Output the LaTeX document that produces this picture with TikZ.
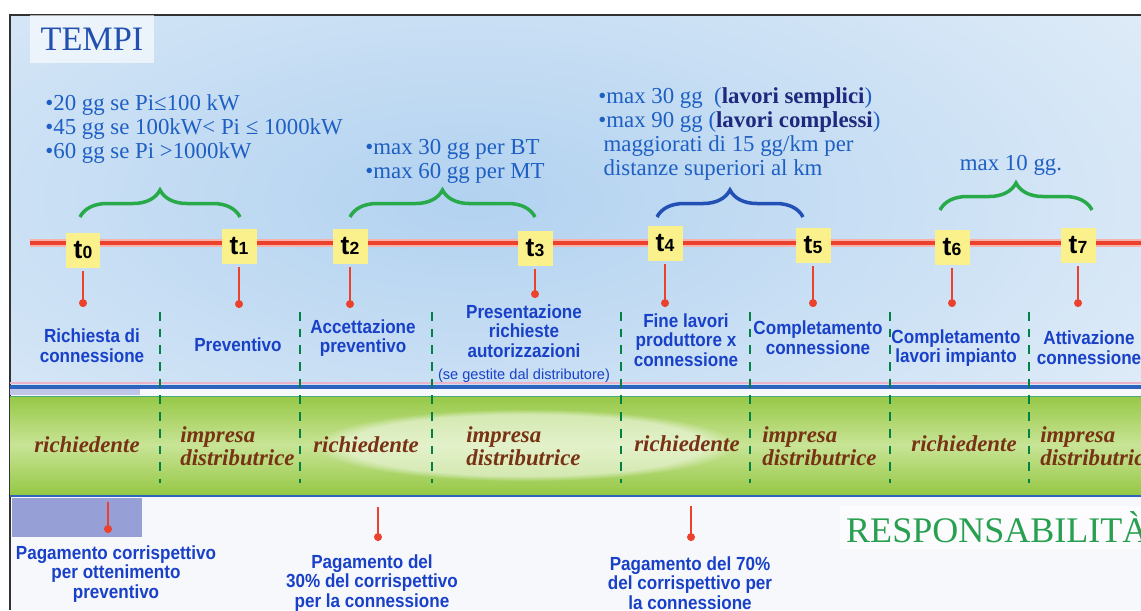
\documentclass[tikz,border=0pt]{standalone}
\usepackage{fontspec}
\setmainfont{Liberation Serif}
\setsansfont{Liberation Sans}
\newfontfamily\stagefont[FakeStretch=0.9]{Liberation Sans}
\usetikzlibrary{arrows.meta,decorations.pathreplacing,fadings}

\definecolor{frameGray}{RGB}{50,50,50}
\definecolor{bgLight}{RGB}{236,243,250}
\definecolor{skyBlue}{RGB}{178,210,240}
\definecolor{lowBg}{RGB}{247,248,252}
\definecolor{tempiBlue}{RGB}{35,80,175}
\definecolor{noteBlue}{RGB}{30,95,195}
\definecolor{boldNavy}{RGB}{30,40,125}
\definecolor{stageBlue}{RGB}{25,65,200}
\definecolor{braceGreen}{RGB}{40,170,75}
\definecolor{braceBlue}{RGB}{35,80,180}
\definecolor{lineRed}{RGB}{235,65,45}
\definecolor{tYellow}{RGB}{250,240,140}
\definecolor{sepGreen}{RGB}{0,130,70}
\definecolor{lineBlue}{RGB}{45,100,190}
\definecolor{linePink}{RGB}{235,180,200}
\definecolor{bandGreen}{RGB}{150,200,70}
\definecolor{bandMid}{RGB}{200,228,150}
\definecolor{roleBrown}{RGB}{120,50,20}
\definecolor{payLilac}{RGB}{150,160,215}
\definecolor{respGreen}{RGB}{40,160,80}

\begin{document}
\begin{tikzpicture}[x=0.02cm,y=-0.02cm]
        \tikzstyle{tbox}=[fill=tYellow,minimum width=7mm,minimum height=7mm,inner sep=0pt,font=\sffamily\fontsize{15}{15}\selectfont\bfseries]
        \tikzstyle{drop}=[draw=lineRed,line width=0.8pt,shorten <=2pt,-{Circle[length=4.5pt]}]
        \tikzstyle{stage}=[align=center,text=stageBlue,inner sep=0pt,font=\stagefont\fontsize{10.8}{11.2}\selectfont\bfseries]
        \tikzstyle{sep}=[draw=sepGreen,line width=1.3pt,dash pattern=on 5pt off 4.5pt]
        \tikzstyle{role}=[align=left,text=roleBrown,inner sep=0pt,font=\fontsize{13}{13}\selectfont\bfseries\itshape]
        \tikzstyle{note}=[align=left,text=noteBlue,inner sep=0pt,font=\fontsize{13}{13.8}\selectfont]
        \tikzstyle{curly}=[decorate,decoration={brace,amplitude=5.4mm},line width=2pt]

      \useasboundingbox (0,0) rectangle (1141,610);

      \begin{scope}
         \fill[white] (0,0) rectangle (1141,610);
         \fill[lowBg] (10,15) rectangle (1141,610);
         \begin{scope}
            \clip (10,15) rectangle (1141,386);
            \fill[bgLight] (10,15) rectangle (1141,386);
            \shade[inner color=skyBlue,outer color=bgLight] (470,200) ellipse (1040 and 460);
         \end{scope}
         \draw[frameGray,line width=1.1pt] (10,610) -- (10,15) -- (1141,15);

         \node[fill=white,fill opacity=0.6,text opacity=1,minimum width=2.5cm,minimum height=0.96cm,
               text=tempiBlue,font=\fontsize{19.5}{20}\selectfont] (tempi) at (92,39) {TEMPI};

         \node[note,anchor=west] (n1) at (45,129)
            {•20 gg se Pi≤100 kW\\•45 gg se 100kW< Pi ≤ 1000kW\\•60 gg se Pi >1000kW};
         \node[note,anchor=west] (n2) at (365,161)
            {•max 30 gg per BT\\•max 60 gg per MT};
         \node[note,anchor=west] (n3) at (598,134)
            {•max 30 gg~~(\textcolor{boldNavy}{\textbf{lavori semplici}})\\
             •max 90 gg (\textcolor{boldNavy}{\textbf{lavori complessi}})\\
             \hspace{3pt}maggiorati di 15 gg/km per\\
             \hspace{3pt}distanze superiori al km};
         \node[note] (n4) at (1011,165) {max 10 gg.};

         \draw[curly,draw=braceGreen] (80,217) -- (240,217);
         \draw[curly,draw=braceGreen] (350,217) -- (535,217);
         \draw[curly,draw=braceBlue]  (657,217) -- (803,217);
         \draw[curly,draw=braceGreen] (940,210) -- (1092,210);

         \draw[lineRed!40,line width=4.5pt] (30,243) -- (1141,243);
         \draw[lineRed,line width=2.6pt] (30,243) -- (1141,243);

         \node[tbox] (t0) at (83,250)   {t{\fontsize{10}{10}\selectfont 0}};
         \node[tbox] (t1) at (239,246)  {t{\fontsize{10}{10}\selectfont 1}};
         \node[tbox] (t2) at (350,246)  {t{\fontsize{10}{10}\selectfont 2}};
         \node[tbox] (t3) at (535,248)  {t{\fontsize{10}{10}\selectfont 3}};
         \node[tbox] (t4) at (665,243)  {t{\fontsize{10}{10}\selectfont 4}};
         \node[tbox] (t5) at (813,245)  {t{\fontsize{10}{10}\selectfont 5}};
         \node[tbox] (t6) at (952,247)  {t{\fontsize{10}{10}\selectfont 6}};
         \node[tbox] (t7) at (1078,245) {t{\fontsize{10}{10}\selectfont 7}};

         \coordinate (e0) at (83,307);
         \coordinate (e1) at (239,308);
         \coordinate (e2) at (350,308);
         \coordinate (e3) at (535,298);
         \coordinate (e4) at (665,307);
         \coordinate (e5) at (813,307);
         \coordinate (e6) at (952,307);
         \coordinate (e7) at (1078,307);
         \draw[drop] (t0) -- (e0);
         \draw[drop] (t1) -- (e1);
         \draw[drop] (t2) -- (e2);
         \draw[drop] (t3) -- (e3);
         \draw[drop] (t4) -- (e4);
         \draw[drop] (t5) -- (e5);
         \draw[drop] (t6) -- (e6);
         \draw[drop] (t7) -- (e7);

         \node[stage] (s0) at (92,346)   {Richiesta di\\connessione};
         \node[stage] (s1) at (238,345)  {Preventivo};
         \node[stage] (s2) at (363,338)  {Accettazione\\preventivo};
         \node[stage] (s3) at (524,331)  {Presentazione\\richieste\\autorizzazioni};
         \node[font=\sffamily\fontsize{8.3}{9}\selectfont,text=stageBlue,inner sep=0pt] (s3b) at (524,376)
            {(se gestite dal distributore)};
         \node[stage] (s4) at (686,340)  {Fine lavori\\produttore x\\connessione};
         \node[stage] (s5) at (818,338)  {Completamento\\connessione};
         \node[stage] (s6) at (956,348)  {Completamento\\lavori impianto};
         \node[stage] (s7) at (1089,348) {Attivazione\\connessione};

         \fill[payLilac!60] (10,389) rectangle (140,395);
         \shade[top color=bandGreen,bottom color=bandGreen,middle color=bandMid] (10,396) rectangle (1141,494);
         \fill[white,opacity=0.5,path fading=circle with fuzzy edge 15 percent] (525,445) ellipse (210 and 36);
         \draw[linePink,line width=0.6pt] (10,383) -- (1141,383);
         \draw[lineBlue,line width=2.2pt] (10,387) -- (1141,387);
         \draw[sepGreen!70,line width=0.5pt] (10,396) -- (1141,396);
         \draw[lineBlue,line width=1.6pt] (10,496) -- (1141,496);

         \draw[sep] (160,312)  -- (160,483);
         \draw[sep] (300,312)  -- (300,483);
         \draw[sep] (432,312)  -- (432,483);
         \draw[sep] (621,312)  -- (621,483);
         \draw[sep] (750,312)  -- (750,483);
         \draw[sep] (890,312)  -- (890,483);
         \draw[sep] (1029,312) -- (1029,483);

         \node[role] (r0) at (87,445)          {richiedente};
         \node[role,anchor=west] (r1) at (180,446)  {impresa\\distributrice};
         \node[role] (r2) at (366,445)         {richiedente};
         \node[role,anchor=west] (r3) at (466,446)  {impresa\\distributrice};
         \node[role] (r4) at (687,444)         {richiedente};
         \node[role,anchor=west] (r5) at (762,446)  {impresa\\distributrice};
         \node[role] (r6) at (964,444)         {richiedente};
         \node[role,anchor=west] (r7) at (1040,446) {impresa\\distributrice};

         \fill[payLilac] (12,498) rectangle (142,537);
         \coordinate (q1) at (108,498);
         \coordinate (f1) at (108,533);
         \coordinate (q2) at (378,503);
         \coordinate (f2) at (378,541);
         \coordinate (q3) at (691,502);
         \coordinate (f3) at (691,541);
         \draw[drop] (q1) -- (f1);
         \draw[drop] (q2) -- (f2);
         \draw[drop] (q3) -- (f3);

         \node[stage] (p1) at (116,574) {Pagamento corrispettivo\\per ottenimento\\preventivo};
         \node[stage] (p2) at (372,583) {Pagamento del\\30\% del corrispettivo\\per la connessione};
         \node[stage] (p3) at (690,583) {Pagamento del 70\%\\del corrispettivo per\\la connessione};

         \node[fill=white,fill opacity=0.7,text opacity=1,anchor=west,text=respGreen,
               font=\fontsize{20.5}{21}\selectfont] (resp) at (840,527) {RESPONSABILITÀ};
      \end{scope}
    \end{tikzpicture}
\end{document}
